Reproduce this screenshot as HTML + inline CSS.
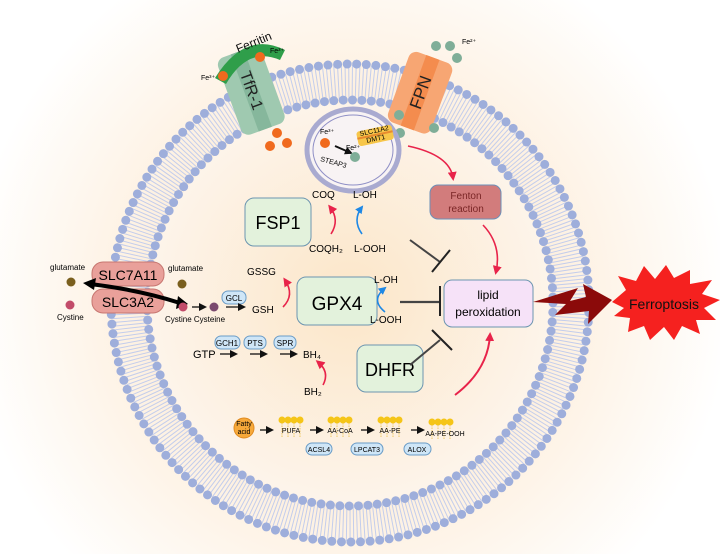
<!DOCTYPE html>
<html><head><meta charset="utf-8"><style>
html,body{margin:0;padding:0;background:#fff}
svg{display:block}
text{font-family:"Liberation Sans",sans-serif}
</style></head><body>
<svg width="720" height="554" viewBox="0 0 720 554" xmlns="http://www.w3.org/2000/svg">
<defs>
<radialGradient id="bg" cx="350" cy="300" r="380" gradientUnits="userSpaceOnUse">
<stop offset="0" stop-color="#fbe3c3"/><stop offset="0.55" stop-color="#fdf0e0"/><stop offset="1" stop-color="#ffffff"/>
</radialGradient>
<radialGradient id="inner" cx="350" cy="300" r="200" gradientUnits="userSpaceOnUse">
<stop offset="0" stop-color="#fce6c8"/><stop offset="1" stop-color="#fdf4ea"/>
</radialGradient>
<marker id="ab" markerWidth="8" markerHeight="8" refX="6" refY="4" orient="auto" markerUnits="userSpaceOnUse"><path d="M0,0 L8,4 L0,8z" fill="#111"/></marker>
<marker id="ar" markerWidth="9" markerHeight="9" refX="6" refY="4.5" orient="auto" markerUnits="userSpaceOnUse"><path d="M0,0 L9,4.5 L0,9z" fill="#e8234a"/></marker>
<marker id="abl" markerWidth="8" markerHeight="8" refX="6" refY="4" orient="auto" markerUnits="userSpaceOnUse"><path d="M0,0 L8,4 L0,8z" fill="#1e88e5"/></marker>
</defs>
<rect width="720" height="554" fill="url(#bg)"/>
<circle cx="350" cy="303" r="200" fill="url(#inner)"/>
<!-- membrane -->
<circle cx="350" cy="303" r="221" fill="none" stroke="#c3cdec" stroke-width="34" stroke-dasharray="1 2.5"/>
<circle cx="350" cy="303" r="239" fill="none" stroke="#9eaedb" stroke-width="9" stroke-linecap="round" stroke-dasharray="0 9.6"/>
<circle cx="350" cy="303" r="203" fill="none" stroke="#9eaedb" stroke-width="9" stroke-linecap="round" stroke-dasharray="0 9.4"/>

<!-- TfR-1 -->
<g transform="rotate(-20 250 90)">
<rect x="228" y="50" width="46" height="82" rx="8" fill="#9fc9b0"/>
<rect x="244" y="50" width="14" height="82" fill="#86b79c"/>
<text x="251" y="91" font-size="16" text-anchor="middle" transform="rotate(90 251 91)" dy="5" fill="#222">TfR-1</text>
</g>
<path d="M215,78 Q245,30 285,50 L280,60 Q248,46 226,84z" fill="#2f9e4a"/>
<text x="238" y="53" font-size="12" fill="#111" transform="rotate(-22 238 53)">Ferritin</text>
<circle cx="223" cy="76" r="5" fill="#f06a1e"/><circle cx="260" cy="57" r="5" fill="#f06a1e"/>
<text x="201" y="80" font-size="7">Fe³⁺</text><text x="270" y="53" font-size="7">Fe³⁺</text>
<circle cx="277" cy="133" r="5" fill="#f06a1e"/><circle cx="270" cy="146" r="5" fill="#f06a1e"/><circle cx="287" cy="143" r="5" fill="#f06a1e"/>

<!-- FPN -->
<g transform="rotate(20 420 90)">
<rect x="398" y="55" width="46" height="75" rx="8" fill="#f7a673"/>
<rect x="414" y="55" width="14" height="75" fill="#f48c4e"/>
<text x="421" y="92" font-size="17" text-anchor="middle" transform="rotate(-90 421 92)" dy="6" fill="#222">FPN</text>
</g>
<circle cx="436" cy="46" r="5" fill="#7fae98"/><circle cx="450" cy="46" r="5" fill="#7fae98"/><circle cx="457" cy="58" r="5" fill="#7fae98"/>
<text x="462" y="44" font-size="7">Fe²⁺</text>
<circle cx="399" cy="115" r="5" fill="#7fae98"/><circle cx="434" cy="128" r="5" fill="#7fae98"/>
<circle cx="388" cy="128" r="5" fill="#7fae98"/><circle cx="400" cy="133" r="5" fill="#7fae98"/><circle cx="391" cy="141" r="5" fill="#7fae98"/>

<!-- endosome -->
<ellipse cx="353" cy="150" rx="46" ry="41" fill="#f8f3f4" stroke="#a9aad0" stroke-width="5"/>
<ellipse cx="353" cy="150" rx="40" ry="35" fill="none" stroke="#8f8fc6" stroke-width="1"/>
<circle cx="325" cy="143" r="5" fill="#f06a1e"/><text x="320" y="134" font-size="7">Fe³⁺</text>
<line x1="335" y1="146" x2="351" y2="153" stroke="#111" stroke-width="2" marker-end="url(#ab)"/>
<circle cx="355" cy="157" r="5" fill="#7fae98"/><text x="346" y="150" font-size="7">Fe²⁺</text>
<text x="320" y="161" font-size="7" transform="rotate(15 320 161)">STEAP3</text>
<g transform="rotate(-12 375 135)"><rect x="357" y="128" width="36" height="15" rx="3" fill="#f7c64a"/><line x1="357" y1="135" x2="393" y2="135" stroke="#e88a2e" stroke-width="2"/>
<text x="375" y="133" font-size="7" text-anchor="middle">SLC11A2</text><text x="375" y="141" font-size="7" text-anchor="middle">DMT1</text></g>
<path d="M408,146 Q450,155 453,178" fill="none" stroke="#e8234a" stroke-width="1.6" marker-end="url(#ar)"/>

<!-- Fenton -->
<rect x="430" y="185" width="71" height="34" rx="8" fill="#d27c7c" stroke="#6c8fb8"/>
<text x="466" y="199" font-size="10" text-anchor="middle" fill="#7a2626">Fenton</text>
<text x="466" y="212" font-size="10" text-anchor="middle" fill="#7a2626">reaction</text>
<path d="M483,225 Q502,245 496,272" fill="none" stroke="#e8234a" stroke-width="1.6" marker-end="url(#ar)"/>

<!-- FSP1 -->
<rect x="245" y="198" width="66" height="48" rx="9" fill="#e3f2dc" stroke="#6c95b0"/>
<text x="278" y="229" font-size="18" text-anchor="middle">FSP1</text>
<text x="312" y="198" font-size="10">COQ</text><text x="353" y="198" font-size="10">L-OH</text>
<text x="309" y="252" font-size="10">COQH₂</text><text x="354" y="252" font-size="10">L-OOH</text>
<path d="M331,234 Q340,220 330,207" fill="none" stroke="#e8234a" stroke-width="1.6" marker-end="url(#ar)"/>
<path d="M362,234 Q352,220 362,207" fill="none" stroke="#1e88e5" stroke-width="1.6" marker-end="url(#abl)"/>

<!-- GPX4 -->
<rect x="297" y="277" width="80" height="48" rx="9" fill="#e3f2dc" stroke="#6c95b0"/>
<text x="337" y="310" font-size="19" text-anchor="middle">GPX4</text>
<text x="247" y="275" font-size="10">GSSG</text><text x="252" y="313" font-size="10">GSH</text>
<path d="M283,307 Q295,295 285,280" fill="none" stroke="#e8234a" stroke-width="1.6" marker-end="url(#ar)"/>
<text x="374" y="283" font-size="10">L-OH</text><text x="370" y="323" font-size="10">L-OOH</text>
<path d="M385,312 Q370,300 385,288" fill="none" stroke="#1e88e5" stroke-width="1.6" marker-end="url(#abl)"/>

<!-- DHFR -->
<rect x="357" y="345" width="66" height="47" rx="9" fill="#e3f2dc" stroke="#6c95b0"/>
<text x="390" y="376" font-size="18" text-anchor="middle">DHFR</text>
<text x="304" y="395" font-size="10">BH₂</text><text x="303" y="358" font-size="10">BH₄</text>
<path d="M323,385 Q330,372 318,362" fill="none" stroke="#e8234a" stroke-width="1.6" marker-end="url(#ar)"/>
<text x="193" y="358" font-size="11">GTP</text>
<line x1="220" y1="354" x2="236" y2="354" stroke="#111" stroke-width="1.3" marker-end="url(#ab)"/>
<line x1="250" y1="354" x2="266" y2="354" stroke="#111" stroke-width="1.3" marker-end="url(#ab)"/>
<line x1="280" y1="354" x2="296" y2="354" stroke="#111" stroke-width="1.3" marker-end="url(#ab)"/>
<g font-size="8" text-anchor="middle">
<rect x="215" y="336" width="25" height="13" rx="6" fill="#cfe6f7" stroke="#6a9cc7"/><text x="227" y="346">GCH1</text>
<rect x="244" y="336" width="22" height="13" rx="6" fill="#cfe6f7" stroke="#6a9cc7"/><text x="255" y="346">PTS</text>
<rect x="274" y="336" width="22" height="13" rx="6" fill="#cfe6f7" stroke="#6a9cc7"/><text x="285" y="346">SPR</text>
<rect x="222" y="291" width="24" height="13" rx="6" fill="#cfe6f7" stroke="#6a9cc7"/><text x="234" y="301">GCL</text>
</g>

<!-- lipid peroxidation -->
<rect x="444" y="280" width="89" height="47" rx="8" fill="#f6e2f8" stroke="#6c95b0"/>
<text x="488" y="299" font-size="12" text-anchor="middle">lipid</text>
<text x="488" y="316" font-size="12" text-anchor="middle">peroxidation</text>
<!-- inhibitors -->
<line x1="410" y1="240" x2="440" y2="262" stroke="#444" stroke-width="2"/><line x1="432" y1="272" x2="450" y2="250" stroke="#222" stroke-width="2"/>
<line x1="400" y1="302" x2="440" y2="302" stroke="#444" stroke-width="2.2"/><line x1="440" y1="286" x2="440" y2="316" stroke="#222" stroke-width="2"/>
<line x1="410" y1="365" x2="440" y2="340" stroke="#444" stroke-width="2"/><line x1="432" y1="330" x2="452" y2="350" stroke="#222" stroke-width="2"/>
<path d="M455,395 Q488,370 490,335" fill="none" stroke="#e8234a" stroke-width="2" marker-end="url(#ar)"/>

<!-- arrow to ferroptosis -->
<polygon points="533,302 578,288 570,301 586,297 583,284 612,300 588,324 589,311 555,315 566,304" fill="#8b0a0a"/>
<polygon points="612,302 626,290 618,276 636,281 644,266 655,279 666,265 674,278 690,270 690,284 712,280 702,294 720,300 704,308 716,320 696,320 700,334 682,326 674,340 664,327 650,340 644,326 628,332 630,318 614,316 624,308" fill="#f5211f"/>
<text x="664" y="309" font-size="14" text-anchor="middle" fill="#111">Ferroptosis</text>

<!-- SLC7A11 / SLC3A2 -->
<rect x="92" y="262" width="72" height="24" rx="11" fill="#e9a09a" stroke="#c77670"/>
<rect x="92" y="289" width="72" height="24" rx="11" fill="#e9a09a" stroke="#c77670"/>
<text x="128" y="280" font-size="14" text-anchor="middle">SLC7A11</text>
<text x="128" y="307" font-size="14" text-anchor="middle">SLC3A2</text>
<path d="M90,284 Q140,290 180,303" fill="none" stroke="#000" stroke-width="4"/>
<polygon points="178,296 188,304 176,309" fill="#000"/>
<polygon points="83,283 96,278 94,290" fill="#000"/>
<text x="50" y="270" font-size="8">glutamate</text><circle cx="71" cy="282" r="4.5" fill="#7a5f1e"/>
<circle cx="70" cy="305" r="4.5" fill="#c24c6a"/><text x="57" y="320" font-size="8">Cystine</text>
<text x="168" y="271" font-size="8">glutamate</text><circle cx="182" cy="284" r="4.5" fill="#7a5f1e"/>
<circle cx="183" cy="307" r="4.5" fill="#c24c6a"/>
<line x1="192" y1="307" x2="205" y2="307" stroke="#111" stroke-width="1.3" marker-end="url(#ab)"/>
<circle cx="214" cy="307" r="4.5" fill="#7b4a6e"/>
<line x1="226" y1="307" x2="244" y2="307" stroke="#111" stroke-width="1.3" marker-end="url(#ab)"/>
<text x="165" y="322" font-size="8">Cystine Cysteine</text>

<!-- lipid chain -->
<circle cx="244" cy="428" r="10" fill="#f7a93a" stroke="#e08a1e"/>
<text x="244" y="426" font-size="7" text-anchor="middle" font-family="Liberation Serif">Fatty</text>
<text x="244" y="434" font-size="7" text-anchor="middle" font-family="Liberation Serif">acid</text>
<g stroke="#111" stroke-width="1.3">
<line x1="260" y1="430" x2="272" y2="430" marker-end="url(#ab)"/>
<line x1="310" y1="430" x2="322" y2="430" marker-end="url(#ab)"/>
<line x1="361" y1="430" x2="373" y2="430" marker-end="url(#ab)"/>
<line x1="411" y1="430" x2="423" y2="430" marker-end="url(#ab)"/>
</g>
<g fill="#f5c518">
<circle cx="282" cy="420" r="3.5"/><circle cx="288" cy="420" r="3.5"/><circle cx="294" cy="420" r="3.5"/><circle cx="300" cy="420" r="3.5"/>
<circle cx="331" cy="420" r="3.5"/><circle cx="337" cy="420" r="3.5"/><circle cx="343" cy="420" r="3.5"/><circle cx="349" cy="420" r="3.5"/>
<circle cx="381" cy="420" r="3.5"/><circle cx="387" cy="420" r="3.5"/><circle cx="393" cy="420" r="3.5"/><circle cx="399" cy="420" r="3.5"/>
<circle cx="432" cy="422" r="3.5"/><circle cx="438" cy="422" r="3.5"/><circle cx="444" cy="422" r="3.5"/><circle cx="450" cy="422" r="3.5"/>
</g>
<g stroke="#f0c860" stroke-width="1" stroke-dasharray="1.5 1">
<path d="M282,423v14M288,423v14M294,423v14M300,423v14M331,423v14M337,423v14M343,423v14M349,423v14M381,423v14M387,423v14M393,423v14M399,423v14M432,425v14M438,425v14M444,425v14M450,425v14"/>
</g>
<g font-size="7" text-anchor="middle">
<text x="291" y="433">PUFA</text><text x="340" y="433">AA-CoA</text><text x="390" y="433">AA-PE</text><text x="445" y="436">AA-PE-OOH</text>
<rect x="306" y="443" width="26" height="12" rx="6" fill="#cfe6f7" stroke="#6a9cc7"/><text x="319" y="452">ACSL4</text>
<rect x="351" y="443" width="32" height="12" rx="6" fill="#cfe6f7" stroke="#6a9cc7"/><text x="367" y="452">LPCAT3</text>
<rect x="404" y="443" width="27" height="12" rx="6" fill="#cfe6f7" stroke="#6a9cc7"/><text x="417" y="452">ALOX</text>
</g>
</svg>
</body></html>
